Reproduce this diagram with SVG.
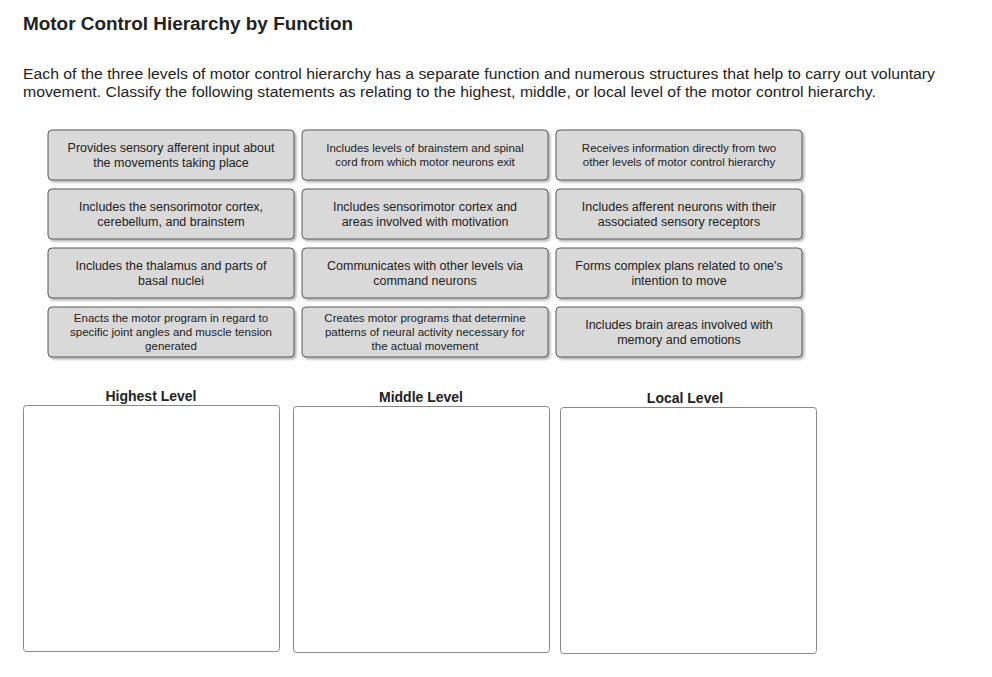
<svg xmlns="http://www.w3.org/2000/svg" width="992" height="677" viewBox="0 0 992 677">
<style>
.t{font-family:"Liberation Sans",Arial,sans-serif;fill:#222}
.card rect{fill:#d9d9d9;stroke:#5a5a5a;stroke-width:1;filter:url(#sh)}
.card text{font-family:"Liberation Sans",Arial,sans-serif;font-size:12.5px;fill:#222;text-anchor:middle}
.card text.s{font-size:11.5px}
.zone rect{fill:#fff;stroke:#888;stroke-width:1}
.zone text{font-family:"Liberation Sans",Arial,sans-serif;font-size:14px;font-weight:bold;fill:#222;text-anchor:middle}
</style>
<defs><filter id="sh" x="-5%" y="-10%" width="115%" height="130%"><feDropShadow dx="2" dy="2" stdDeviation="1.2" flood-color="#000" flood-opacity="0.3"/></filter></defs>
<rect width="992" height="677" fill="#fff"/>
<text class="t" x="23" y="30" font-size="18" font-weight="bold" textLength="330" lengthAdjust="spacingAndGlyphs">Motor Control Hierarchy by Function</text>
<text class="t" x="23" y="79" font-size="14" textLength="912" lengthAdjust="spacingAndGlyphs">Each of the three levels of motor control hierarchy has a separate function and numerous structures that help to carry out voluntary</text>
<text class="t" x="23" y="97" font-size="14" textLength="853" lengthAdjust="spacingAndGlyphs">movement. Classify the following statements as relating to the highest, middle, or local level of the motor control hierarchy.</text>
<g id="c1" class="card"><rect x="48" y="130" width="246" height="50" rx="4"/><text x="171" y="152">Provides sensory afferent input about</text><text x="171" y="167">the movements taking place</text></g>
<g id="c2" class="card"><rect x="302" y="130" width="246" height="50" rx="4"/><text class="s" x="425" y="152">Includes levels of brainstem and spinal</text><text class="s" x="425" y="166">cord from which motor neurons exit</text></g>
<g id="c3" class="card"><rect x="556" y="130" width="246" height="50" rx="4"/><text class="s" x="679" y="152">Receives information directly from two</text><text class="s" x="679" y="166">other levels of motor control hierarchy</text></g>
<g id="c4" class="card"><rect x="48" y="189" width="246" height="50" rx="4"/><text x="171" y="211">Includes the sensorimotor cortex,</text><text x="171" y="226">cerebellum, and brainstem</text></g>
<g id="c5" class="card"><rect x="302" y="189" width="246" height="50" rx="4"/><text x="425" y="211">Includes sensorimotor cortex and</text><text x="425" y="226">areas involved with motivation</text></g>
<g id="c6" class="card"><rect x="556" y="189" width="246" height="50" rx="4"/><text x="679" y="211">Includes afferent neurons with their</text><text x="679" y="226">associated sensory receptors</text></g>
<g id="c7" class="card"><rect x="48" y="248" width="246" height="50" rx="4"/><text x="171" y="270">Includes the thalamus and parts of</text><text x="171" y="285">basal nuclei</text></g>
<g id="c8" class="card"><rect x="302" y="248" width="246" height="50" rx="4"/><text x="425" y="270">Communicates with other levels via</text><text x="425" y="285">command neurons</text></g>
<g id="c9" class="card"><rect x="556" y="248" width="246" height="50" rx="4"/><text x="679" y="270">Forms complex plans related to one's</text><text x="679" y="285">intention to move</text></g>
<g id="c10" class="card"><rect x="48" y="307" width="246" height="50" rx="4"/><text class="s" x="171" y="322">Enacts the motor program in regard to</text><text class="s" x="171" y="336">specific joint angles and muscle tension</text><text class="s" x="171" y="350">generated</text></g>
<g id="c11" class="card"><rect x="302" y="307" width="246" height="50" rx="4"/><text class="s" x="425" y="322">Creates motor programs that determine</text><text class="s" x="425" y="336">patterns of neural activity necessary for</text><text class="s" x="425" y="350">the actual movement</text></g>
<g id="c12" class="card"><rect x="556" y="307" width="246" height="50" rx="4"/><text x="679" y="329">Includes brain areas involved with</text><text x="679" y="344">memory and emotions</text></g>
<g id="z1" class="zone"><text x="151" y="401">Highest Level</text><rect x="23.500" y="405.500" width="256" height="246" rx="3"/></g>
<g id="z2" class="zone"><text x="421" y="402">Middle Level</text><rect x="293.500" y="406.500" width="256" height="246" rx="3"/></g>
<g id="z3" class="zone"><text x="685" y="403">Local Level</text><rect x="560.500" y="407.500" width="256" height="246" rx="3"/></g>
<g id="connectors"/>
</svg>
